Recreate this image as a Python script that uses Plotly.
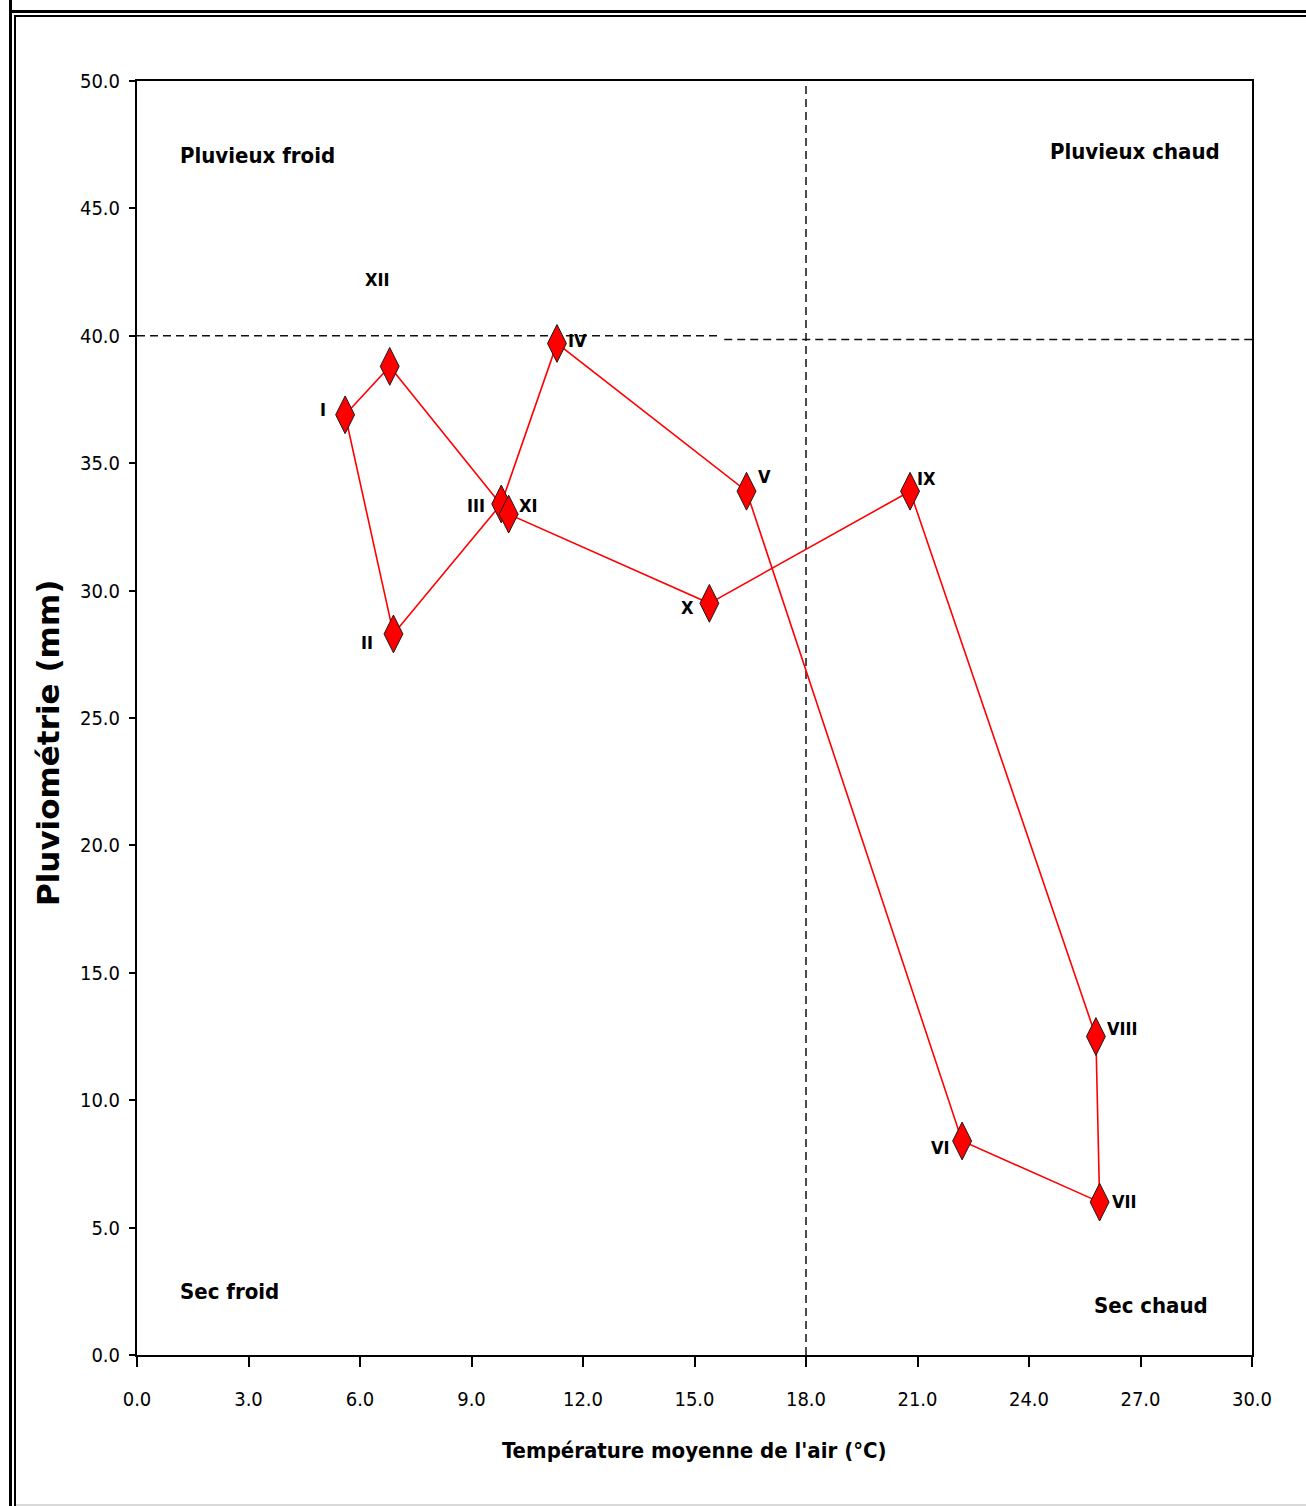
import plotly.graph_objects as go

# Monthly climate values (months in Roman numerals)
months = ["I", "II", "III", "IV", "V", "VI", "VII", "VIII", "IX", "X", "XI", "XII"]
temperature = [5.6, 6.9, 9.8, 11.3, 16.4, 22.2, 25.9, 25.8, 20.8, 15.4, 10.0, 6.8]
rainfall = [36.9, 28.3, 33.4, 39.7, 33.9, 8.4, 6.0, 12.5, 33.9, 29.5, 33.0, 38.8]

# Quadrant thresholds
temp_threshold = 18.0
rain_threshold = 40.0

x_ticks = [0.0, 3.0, 6.0, 9.0, 12.0, 15.0, 18.0, 21.0, 24.0, 27.0, 30.0]
y_ticks = [0.0, 5.0, 10.0, 15.0, 20.0, 25.0, 30.0, 35.0, 40.0, 45.0, 50.0]

# Pixel offsets of each month label relative to its marker
label_shift = {
    "I": (-22, 5), "II": (-26, -9), "III": (-25, -2), "IV": (21, 3),
    "V": (18, 15), "VI": (-22, -7), "VII": (25, 1), "VIII": (27, 8),
    "IX": (16, 13), "X": (-22, -4), "XI": (20, 9), "XII": (-12, 87),
}

W, H = 1306, 1506
ML, MR, MT, MB = 137, 54, 81, 151
PW, PH = W - ML - MR, H - MT - MB

NARROW = "DejaVu Sans Condensed, Liberation Sans Narrow, sans-serif"


def px(xp):
    return (xp - ML) / PW


def py(yp):
    return (H - MB - yp) / PH


def nfont(size, bold=False):
    f = dict(family=NARROW, size=size, color="#000000")
    if bold:
        f["weight"] = "bold"
    return f


fig = go.Figure()

# Closed annual cycle
fig.add_trace(go.Scatter(
    x=temperature + [temperature[0]],
    y=rainfall + [rainfall[0]],
    mode="lines",
    line=dict(color="#ff0000", width=1.6),
    hoverinfo="skip",
    showlegend=False,
))
fig.add_trace(go.Scatter(
    x=temperature,
    y=rainfall,
    mode="markers",
    marker=dict(symbol="diamond-tall", size=27, color="#ff0000",
                line=dict(color="#1a1a1a", width=1)),
    text=months,
    showlegend=False,
))

# Threshold lines
dash = dict(color="#111111", width=1.5, dash="8px,5px")
fig.add_shape(type="line", xref="x", yref="y", x0=temp_threshold, x1=temp_threshold,
              y0=0, y1=50, line=dash, layer="below")
fig.add_shape(type="line", xref="x", yref="y", x0=0, x1=15.7,
              y0=rain_threshold, y1=rain_threshold, line=dash, layer="below")
fig.add_shape(type="line", xref="x", yref="y", x0=15.8, x1=30,
              y0=rain_threshold - 0.15, y1=rain_threshold - 0.15, line=dash, layer="below")

# Month labels
for m, t, r in zip(months, temperature, rainfall):
    dx, dy = label_shift[m]
    fig.add_annotation(x=t, y=r, text=m, showarrow=False, xshift=dx, yshift=dy,
                       font=nfont(18, bold=True))

# Quadrant names
quad = nfont(22, bold=True)
fig.add_annotation(xref="paper", yref="paper", x=px(178), y=py(155), xanchor="left",
                   yanchor="middle", text="Pluvieux froid", showarrow=False, font=quad)
fig.add_annotation(xref="paper", yref="paper", x=px(1222), y=py(152), xanchor="right",
                   yanchor="middle", text="Pluvieux chaud", showarrow=False, font=quad)
fig.add_annotation(xref="paper", yref="paper", x=px(178), y=py(1291), xanchor="left",
                   yanchor="middle", text="Sec froid", showarrow=False, font=quad)
fig.add_annotation(xref="paper", yref="paper", x=px(1210), y=py(1305), xanchor="right",
                   yanchor="middle", text="Sec chaud", showarrow=False, font=quad)

# Axis titles
fig.add_annotation(xref="paper", yref="paper", x=px(694), y=py(1450),
                   text="Température moyenne de l'air (°C)",
                   showarrow=False, xanchor="center", yanchor="middle",
                   font=nfont(22, bold=True))
fig.add_annotation(xref="paper", yref="paper", x=px(48), y=py(743), text="Pluviométrie (mm)",
                   textangle=-90, showarrow=False, xanchor="center", yanchor="middle",
                   font=dict(family="DejaVu Sans, Verdana, sans-serif", size=31,
                             color="#000000", weight="bold"))

# Page frame
frame = [
    (10.5, 0, 10.5, H, 3, "#000000"),
    (15, 15, 15, H, 2, "#000000"),
    (10, 11.5, W, 11.5, 3, "#000000"),
    (15, 16, W, 16, 2, "#000000"),
    (16, 1505, W, 1505, 1, "#b4b4b4"),
]
for x0, y0, x1, y1, w, c in frame:
    fig.add_shape(type="line", xref="paper", yref="paper", x0=px(x0), y0=py(y0),
                  x1=px(x1), y1=py(y1), line=dict(color=c, width=w))

axis_common = dict(
    showgrid=False, zeroline=False, showline=True, linecolor="#000000", linewidth=2,
    mirror=True, ticks="outside", tickcolor="#000000", tickwidth=1.5,
    tickfont=nfont(20),
    tickformat=".1f",
)
fig.update_xaxes(range=[0, 30], tickvals=x_ticks, ticklen=10, ticklabelstandoff=15,
                 **axis_common)
fig.update_yaxes(range=[0, 50], tickvals=y_ticks, ticklen=6, ticklabelstandoff=5,
                 **axis_common)

fig.update_layout(
    width=W, height=H,
    margin=dict(l=ML, r=MR, t=MT, b=MB, pad=0),
    paper_bgcolor="#ffffff", plot_bgcolor="#ffffff",
    showlegend=False,
)

fig.write_html("out.html")
